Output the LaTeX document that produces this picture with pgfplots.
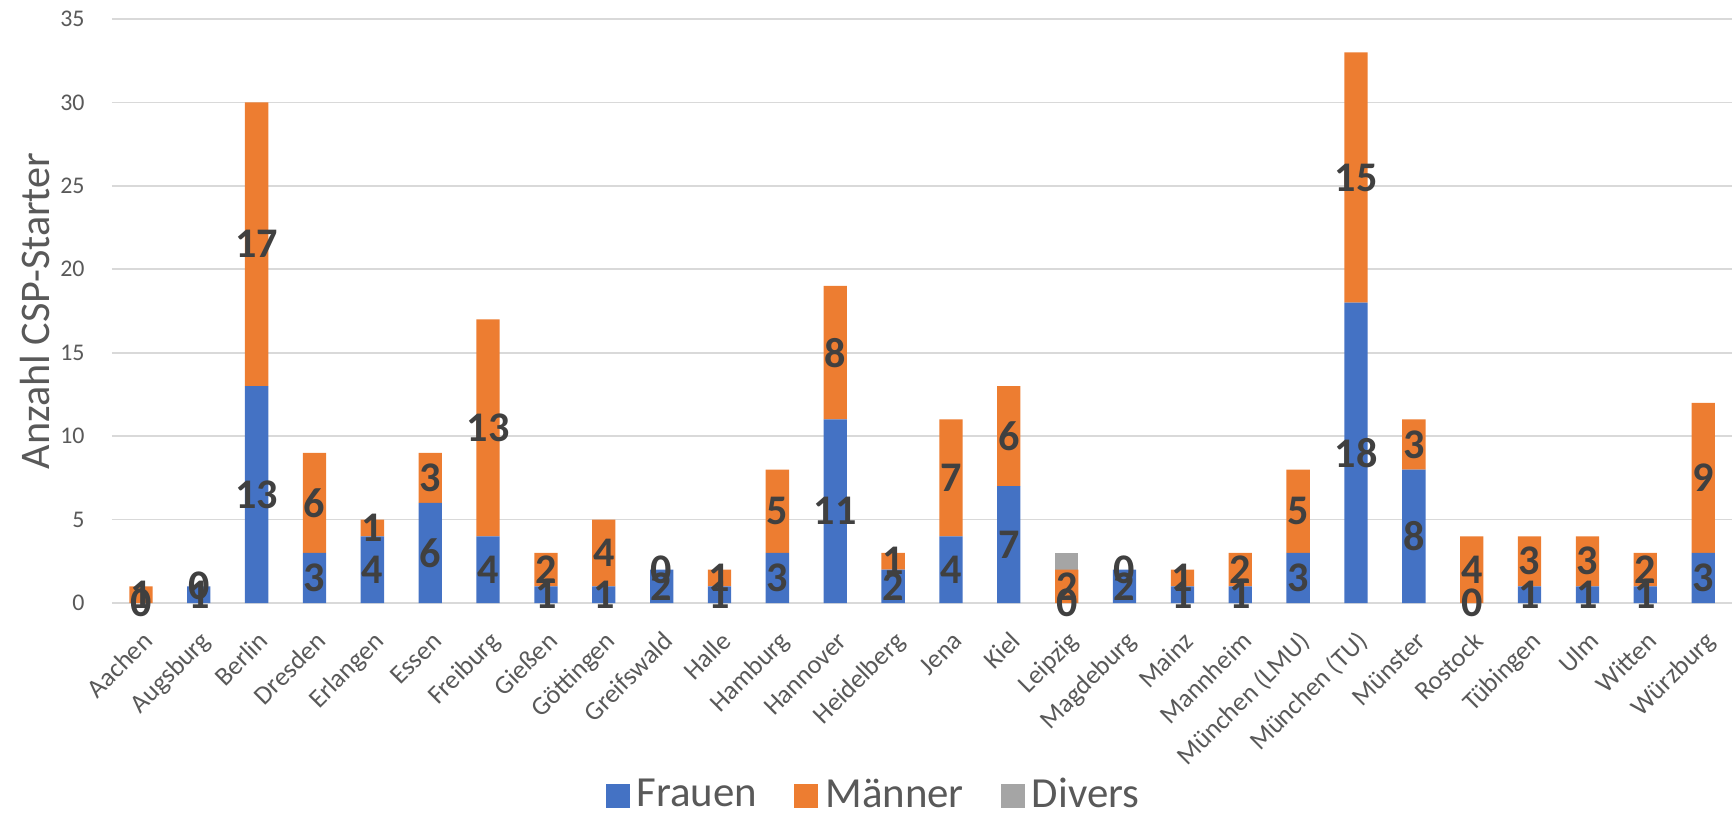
\documentclass[border=0pt]{standalone}
\usepackage{pgfplots}
\pgfplotsset{compat=1.18}
\usepackage{pgfplotstable}
\usepackage{fontspec}
\setmainfont{Carlito}
\definecolor{cF}{HTML}{4472C4}
\definecolor{cM}{HTML}{ED7D31}
\definecolor{cD}{HTML}{A5A5A5}
\definecolor{gridc}{HTML}{D9D9D9}
\definecolor{tickc}{HTML}{595959}
\definecolor{labc}{HTML}{404040}

\pgfplotstableread{
x F M D
0 0 1 0
1 1 0 0
2 13 17 0
3 3 6 0
4 4 1 0
5 6 3 0
6 4 13 0
7 1 2 0
8 1 4 0
9 2 0 0
10 1 1 0
11 3 5 0
12 11 8 0
13 2 1 0
14 4 7 0
15 7 6 0
16 0 2 1
17 2 0 0
18 1 1 0
19 1 2 0
20 3 5 0
21 18 15 0
22 8 3 0
23 0 4 0
24 1 3 0
25 1 3 0
26 1 2 0
27 3 9 0
}\datatable

\pgfplotsset{base/.style={
  at={(0,0)}, anchor=south west, scale only axis,
  x=0.5786cm, y=0.16686cm,
  xmin=-0.5, xmax=27.5, ymin=0, ymax=35,
  /pgf/number format/assume math mode=true,
}}

\begin{document}
\begin{tikzpicture}
\useasboundingbox (-1.12,-2.17) rectangle (16.20,6.03);
\begin{axis}[base,
  ybar stacked, bar width=0.233cm,
  axis line style={draw=none}, major tick length=0pt,
  ymajorgrids, grid style={color=gridc, line width=0.5pt},
  ytick={0,5,...,35},
  xtick={0,...,27},
  xticklabels={Aachen,Augsburg,Berlin,Dresden,Erlangen,Essen,Freiburg,Gießen,Göttingen,Greifswald,Halle,Hamburg,Hannover,Heidelberg,Jena,Kiel,Leipzig,Magdeburg,Mainz,Mannheim,München (LMU),München (TU),Münster,Rostock,Tübingen,Ulm,Witten,Würzburg},
  yticklabel style={font=\fontsize{6.8}{8}\selectfont, text=tickc, xshift=-0.15cm},
  xticklabel style={font=\fontsize{7.5}{9}\selectfont, text=tickc, text height=0.7em, text depth=0.2em,
    xshift=0.155cm, yshift=-0.25cm, rotate=45, anchor=east},
  ylabel={Anzahl CSP-Starter},
  ylabel style={at={(axis description cs:-0.0475,0.5)}, anchor=center, rotate=0, font=\fontsize{12}{14}\selectfont, text=tickc},
  legend style={at={(axis description cs:0.4716,-0.33)}, anchor=center, draw=none, fill=none,
    legend columns=-1, font=\fontsize{12.2}{14}\selectfont, text=tickc,
    /tikz/every even column/.append style={column sep=0.3cm}},
  legend image code/.code={\fill[#1] (-0.08cm,-0.12cm) rectangle (0.16cm,0.12cm);},
]
\addplot[fill=cF, draw=none] table[x=x, y=F] {\datatable};
\addplot[fill=cM, draw=none] table[x=x, y=M] {\datatable};
\addplot[fill=cD, draw=none] table[x=x, y=D] {\datatable};
\legend{Frauen, Männer, Divers}
\end{axis}
\begin{axis}[base, hide axis, clip=false,
  every node near coord/.style={anchor=center, font=\bfseries\fontsize{12}{14}\selectfont, text=labc},
]
\addplot[draw=none, nodes near coords, point meta=explicit] table[x=x, y expr=\thisrow{F}/2, meta=F] {\datatable};
\addplot[draw=none, nodes near coords, point meta=explicit] table[x=x, y expr=\thisrow{F}+\thisrow{M}/2, meta=M] {\datatable};
\end{axis}
\end{tikzpicture}
\end{document}
